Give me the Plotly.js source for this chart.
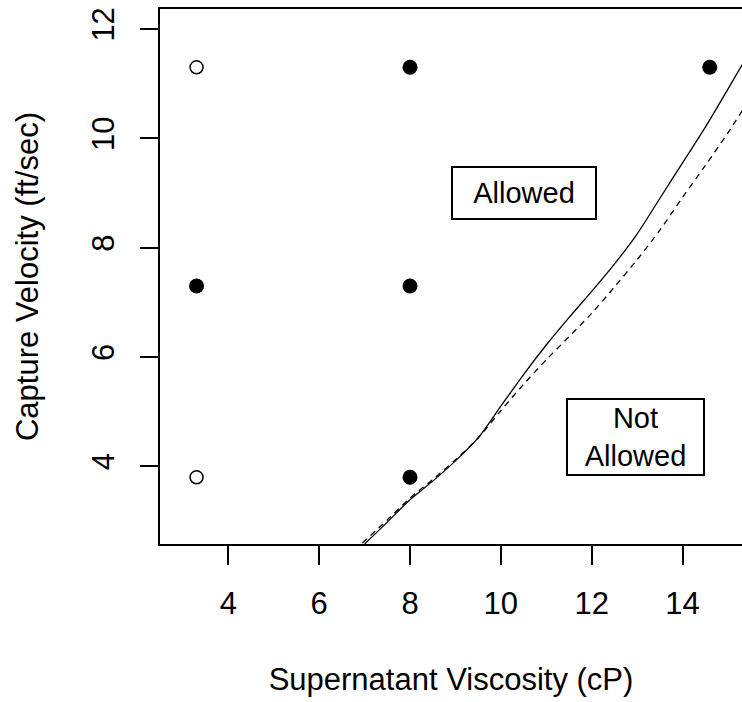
<!DOCTYPE html>
<html>
<head>
<meta charset="utf-8">
<script src="https://cdn.plot.ly/plotly-3.0.1.min.js"></script>
<style>html,body{margin:0;padding:0;overflow:hidden;background:#fff}</style>
</head>
<body>
<div id="chart" style="width:742px;height:702px"></div>
<script>
// Observed design points
const openX = [3.3, 3.3];
const openY = [11.3, 3.8];
const filledX = [8, 14.6, 3.3, 8, 8];
const filledY = [11.3, 11.3, 7.3, 7.3, 3.8];

// Boundary curves
const solidX = [7.0, 7.5, 8.0, 8.5, 9.0, 9.5, 10.0, 10.5, 11.0, 11.5, 12.0, 12.5, 13.0, 13.5, 14.0, 14.5, 15.0, 15.35];
const solidY = [2.58, 2.98, 3.39, 3.73, 4.1, 4.52, 5.1, 5.68, 6.22, 6.72, 7.2, 7.7, 8.25, 8.9, 9.55, 10.2, 10.9, 11.4];
const dashX = [6.95, 7.5, 8.0, 8.5, 9.0, 9.5, 10.0, 10.5, 11.0, 11.5, 12.0, 12.5, 13.0, 13.5, 14.0, 14.5, 15.0, 15.35];
const dashY = [2.6, 3.02, 3.42, 3.76, 4.12, 4.52, 5.02, 5.5, 5.95, 6.37, 6.8, 7.28, 7.78, 8.32, 8.92, 9.5, 10.1, 10.55];

const xTicks = [4, 6, 8, 10, 12, 14];
const yTicks = [4, 6, 8, 10, 12];

const regionLabels = ["Allowed", "Not<br>Allowed"];
const regionX = [10.5, 12.97];
const regionY = [9.0, 4.54];

const FONT = "Liberation Sans, Arial, sans-serif";

const traces = [
  {x: solidX, y: solidY, mode: 'lines', line: {color: '#000', width: 1.3, shape: 'spline', smoothing: 0.8}, hoverinfo: 'skip', showlegend: false},
  {x: dashX, y: dashY, mode: 'lines', line: {color: '#000', width: 1.3, dash: '6px,5px', shape: 'spline', smoothing: 0.8}, hoverinfo: 'skip', showlegend: false},
  {x: openX, y: openY, mode: 'markers', marker: {symbol: 'circle-open', size: 13, color: '#000', line: {width: 1.5, color: '#000'}}, showlegend: false},
  {x: filledX, y: filledY, mode: 'markers', marker: {symbol: 'circle', size: 15, color: '#000'}, showlegend: false}
];

const boxW = [140, 133];
const boxH = [48, 72];
const annotations = regionLabels.map((t, i) => ({
  x: regionX[i], y: regionY[i], xref: 'x', yref: 'y', text: t, showarrow: false,
  font: {family: FONT, size: 29, color: '#000'}, align: 'center', valign: 'middle',
  width: boxW[i], height: boxH[i],
  bordercolor: '#000', borderwidth: 2, borderpad: 1, bgcolor: '#fff'
}));

const layout = {
  width: 742, height: 702,
  margin: {l: 160, r: 0, t: 9, b: 158},
  paper_bgcolor: '#fff', plot_bgcolor: '#fff',
  font: {family: FONT, size: 31, color: '#000'},
  showlegend: false,
  xaxis: {
    range: [2.495, 15.31], tickvals: xTicks, ticktext: xTicks.map(String),
    showgrid: false, zeroline: false, showline: true, linecolor: '#000', linewidth: 2,
    mirror: true, ticks: 'outside', ticklen: 19, tickwidth: 2, tickcolor: '#000',
    ticklabelstandoff: 12, tickfont: {family: FONT, size: 31, color: '#000'},
    title: {text: 'Supernatant Viscosity (cP)', font: {family: FONT, size: 31, color: '#000'}, standoff: 48},
    automargin: false
  },
  yaxis: {
    range: [2.58, 12.366], tickvals: yTicks, ticktext: yTicks.map(String),
    showgrid: false, zeroline: false, showline: true, linecolor: '#000', linewidth: 2,
    mirror: false, ticks: 'outside', ticklen: 18, tickwidth: 2, tickcolor: '#000',
    tickangle: -90, ticklabelstandoff: 14, tickfont: {family: FONT, size: 31, color: '#000'},
    title: {text: 'Capture Velocity (ft/sec)', font: {family: FONT, size: 31, color: '#000'}, standoff: 38},
    automargin: false
  },
  annotations: annotations
};

Plotly.newPlot('chart', traces, layout, {displayModeBar: false, staticPlot: true});
</script>
</body>
</html>
